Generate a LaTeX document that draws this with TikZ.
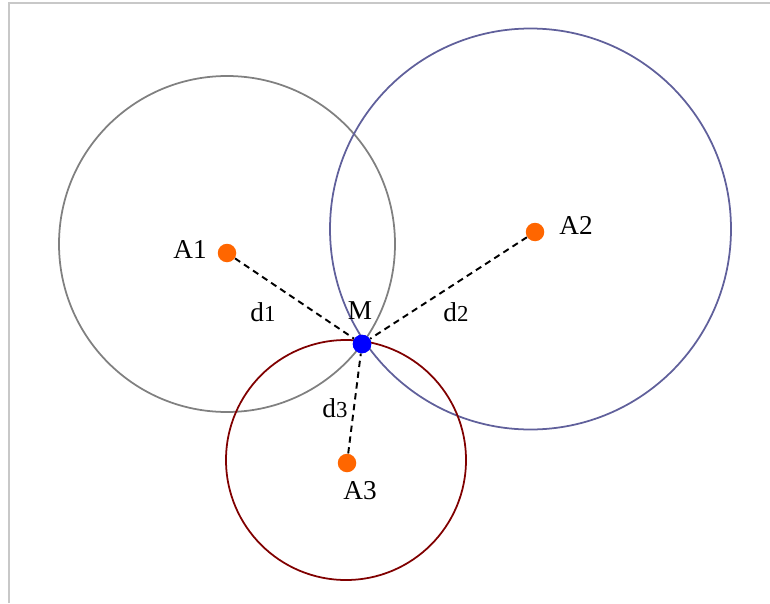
\documentclass[tikz,border=0pt]{standalone}
\usepackage{fontspec}
\setmainfont{Liberation Serif}
\usepackage{tikz}
\usetikzlibrary{calc}
\definecolor{framegray}{RGB}{200,200,200}
\definecolor{circlegray}{RGB}{128,128,128}
\definecolor{slate}{RGB}{96,96,155}
\definecolor{maroon}{RGB}{128,0,0}
\definecolor{anchorc}{RGB}{255,102,0}
\definecolor{target}{RGB}{0,0,255}
\tikzset{
  anchorpt/.style={circle,fill=anchorc,inner sep=0pt,minimum size=0.37cm},
  targetpt/.style={circle,fill=target,inner sep=0pt,minimum size=0.37cm},
  lbl/.style={inner sep=0pt,font=\fontsize{15.5}{18}\selectfont},
  dist/.style={black,dash pattern=on 3.6pt off 2.6pt,line width=1.1pt}
}
\begin{document}
\begin{tikzpicture}[x=0.02cm,y=0.02cm]
\useasboundingbox (0,0) rectangle (770,603);
% frame
\draw[framegray,line width=0.04cm] (9,0) -- (9,600) -- (770,600);
% circles
\draw[circlegray,line width=1pt] (227,359) circle (168);
\draw[slate,line width=1pt] (530.5,374) circle (200.5);
\draw[maroon,line width=1pt] (346,143) circle (120);
% points
\node[anchorpt] (A1) at (227,350) {};
\node[anchorpt] (A2) at (535,371) {};
\node[anchorpt] (A3) at (347,140) {};
\node[targetpt] (M) at (362,259) {};
% distances
\draw[dist] (A1) -- (M);
\draw[dist] (A2) -- (M);
\draw[dist] (A3) -- (M);
\node[targetpt] at (M) {};
% labels
\node[lbl] (lA1) at (190,353) {A1};
\node[lbl] (lA2) at (576,378) {A2};
\node[lbl] (lA3) at (360,112) {A3};
\node[lbl] (lM) at (360,292) {M};
\node[lbl] (ld1) at (263,291) {d{\fontsize{13}{15}\selectfont1}};
\node[lbl] (ld2) at (456,291) {d{\fontsize{13}{15}\selectfont2}};
\node[lbl] (ld3) at (335,195) {d{\fontsize{13}{15}\selectfont3}};
\end{tikzpicture}
\end{document}
